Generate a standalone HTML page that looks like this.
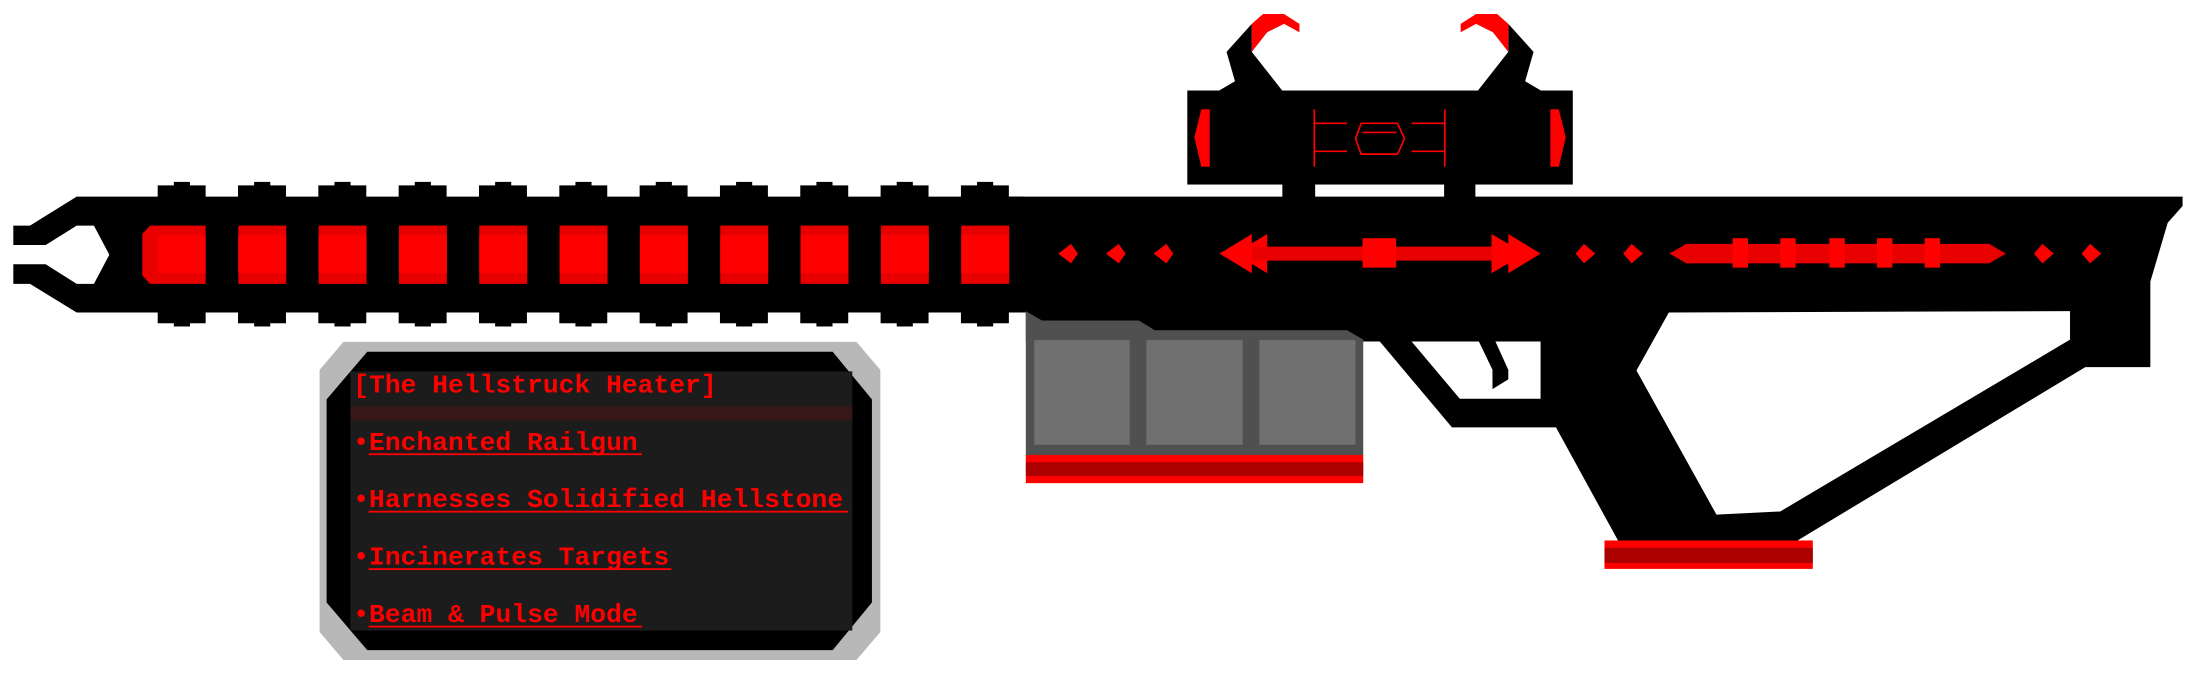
<!DOCTYPE html>
<html><head><meta charset="utf-8"><style>
html,body{margin:0;padding:0;background:#fff;overflow:hidden}
svg{display:block}
text{font-family:"Liberation Mono",monospace;font-weight:bold;fill:#f00}
</style></head><body>
<svg width="2198" height="674" viewBox="0 0 1568 481" preserveAspectRatio="none" xmlns="http://www.w3.org/2000/svg">
<!-- barrel -->
<polygon fill="#000" points="54.7,140.3 730,140.3 730,223 54.7,223 21.4,202.6 9.5,202.6 9.5,188.6 32.6,188.6 54.7,202.6 67,202.6 78,181.8 67,161 54.7,161 32.6,174.8 9.5,174.8 9.5,161 21.4,161"/>
<g id="bumps" fill="#000">
<g id="b0"><rect x="112.5" y="132.3" width="34.2" height="9"/><rect x="124" y="129.8" width="11.5" height="4"/><rect x="112.5" y="222" width="34.2" height="8.7"/><rect x="124" y="229" width="11.5" height="4"/></g>
<use href="#b0" x="57.3"/><use href="#b0" x="114.6"/><use href="#b0" x="171.9"/><use href="#b0" x="229.2"/><use href="#b0" x="286.5"/><use href="#b0" x="343.8"/><use href="#b0" x="401.1"/><use href="#b0" x="458.4"/><use href="#b0" x="515.7"/><use href="#b0" x="573"/>
</g>
<polygon fill="#e80000" points="107,161 146.7,161 146.7,202.6 107,202.6 101.5,196.5 101.5,167"/>
<rect x="112.5" y="168" width="34.2" height="27" fill="#f00"/>
<g id="sq"><rect x="170" y="161" width="34.2" height="41.6" fill="#e80000"/><rect x="170" y="168" width="34.2" height="27" fill="#f00"/></g>
<use href="#sq" x="57.3"/><use href="#sq" x="114.6"/><use href="#sq" x="171.9"/><use href="#sq" x="229.2"/><use href="#sq" x="286.5"/><use href="#sq" x="343.8"/><use href="#sq" x="401.1"/><use href="#sq" x="458.4"/>
<polygon fill="#e80000" points="685.7,161 726,161 731.5,167 731.5,196.5 726,202.6 685.7,202.6"/>
<rect x="685.7" y="168" width="34.2" height="27" fill="#f00"/>

<!-- scope -->
<rect x="847" y="64.6" width="275" height="67.1" fill="#000"/>
<rect x="914.8" y="130" width="23.4" height="12" fill="#000"/>
<rect x="1030.2" y="130" width="22.3" height="12" fill="#000"/>
<polygon fill="#000" points="893,17 875,37 881,58 869,65 915,65 893,37"/>
<polygon fill="#f00" points="893,17 901,10 916,10 927,17 927,23 916,17 904,23 893,37"/>
<g transform="translate(1969,0) scale(-1,1)">
<polygon fill="#000" points="893,17 875,37 881,58 869,65 915,65 893,37"/>
<polygon fill="#f00" points="893,17 901,10 916,10 927,17 927,23 916,17 904,23 893,37"/>
<polygon fill="#f00" points="857,78 863,78 863,119 857,119 852,98"/>
</g>
<polygon fill="#f00" points="857,78 863,78 863,119 857,119 852,98"/>
<g stroke="#f00" stroke-width="1.2" fill="none">
<line x1="937.6" y1="78" x2="937.6" y2="119"/><line x1="1030.7" y1="78" x2="1030.7" y2="119"/>
<line x1="937.6" y1="88" x2="961" y2="88"/><line x1="937.6" y1="108" x2="961" y2="108"/>
<line x1="1007" y1="88" x2="1030.7" y2="88"/><line x1="1007" y1="108" x2="1030.7" y2="108"/>
<polygon points="967,99 971,88 997,88 1002,99 997,110 971,110"/>
<line x1="972" y1="94.5" x2="996" y2="94.5"/>
</g>

<!-- body -->
<polygon fill="#000" points="720,140.3 1557,140.3 1557,147 1546.4,159 1534,201 1534,262 1487.6,262 1282.3,385.7 1155.5,388 1110,305 1035.8,305 984.3,243.7 731.8,243.7 731.8,223 720,223"/>
<polygon fill="#fff" points="1190.5,223 1476.7,222 1476.7,242.4 1270,365 1224.5,367.3 1167.4,264.4"/>
<polygon fill="#fff" points="1007,243.7 1099,243.7 1099,284.6 1041.4,284.6"/>
<polygon fill="#000" points="1055,243.7 1066.8,243.7 1076,264 1076,270.7 1064.7,277.7 1064.7,263.9"/>
<!-- butt plate -->
<rect x="1144.6" y="385.7" width="148.6" height="20.3" fill="#f00"/>
<rect x="1144.6" y="390.9" width="148.6" height="10.9" fill="#a00"/>
<!-- magazine -->
<polygon fill="#505050" points="731.8,222 743.3,228.7 812.4,228.7 823.8,235.7 961,235.7 972.5,242.4 972.5,325 731.8,325"/>
<rect x="737.8" y="242.7" width="68.1" height="74.7" fill="#707070"/>
<rect x="817.8" y="242.7" width="68.7" height="74.7" fill="#707070"/>
<rect x="898.4" y="242.7" width="68.6" height="74.7" fill="#707070"/>
<rect x="731.8" y="324.7" width="240.7" height="20.1" fill="#f00"/>
<rect x="731.8" y="329.9" width="240.7" height="9.7" fill="#a00"/>

<!-- red decorations on body -->
<g fill="#f00">
<polygon points="755,181 764,174 769,181 764,188"/>
<polygon points="789,181 798,174 803,181 798,188"/>
<polygon points="823,181 832,174 837,181 832,188"/>
<polygon points="870,181 893,167 893,195"/>
<polygon points="881,181 904,167 904,195"/>
<rect x="893" y="176" width="183" height="10" fill="#e80000"/>
<rect x="972" y="170" width="24" height="21"/>
<polygon points="1099,181 1076,167 1076,195"/>
<polygon points="1088,181 1064,167 1064,195"/>
<polygon points="1124,181 1130,174 1138,181 1130,188"/>
<polygon points="1158,181 1164,174 1172,181 1164,188"/>
<polygon points="1191,181 1203,174 1419,174 1431,181 1419,188 1203,188" fill="#e80000"/>
<rect x="1236" y="170" width="11" height="21"/><rect x="1270" y="170" width="11" height="21"/><rect x="1305" y="170" width="11" height="21"/><rect x="1339" y="170" width="11" height="21"/><rect x="1373" y="170" width="11" height="21"/>
<polygon points="1451,181 1457,174 1465,181 1457,188"/>
<polygon points="1485,181 1491,174 1499,181 1491,188"/>
</g>

<!-- info panel -->
<polygon fill="#b8b8b8" points="245,244 611,244 628,264 628,451 611,471 245,471 228,451 228,264"/>
<polygon fill="#000" points="262,251 594,251 622,285 622,430 594,464 262,464 233,430 233,285"/>
<rect x="250" y="265" width="358" height="185" fill="#1c1c1c"/>
<rect x="250" y="290" width="358" height="10" fill="#371818"/>
<text x="252" y="280" font-size="18.8">[The Hellstruck Heater]</text>
<text x="252" y="321" font-size="18.8">•Enchanted Railgun</text>
<text x="252" y="362" font-size="18.8">•Harnesses Solidified Hellstone</text>
<text x="252" y="403" font-size="18.8">•Incinerates Targets</text>
<text x="252" y="444" font-size="18.8">•Beam &amp; Pulse Mode</text>
<g fill="#f00">
<rect x="263" y="323.5" width="195" height="1.3"/>
<rect x="263" y="364.5" width="342" height="1.3"/>
<rect x="263" y="405.5" width="216" height="1.3"/>
<rect x="263" y="446.5" width="195" height="1.3"/>
</g>
</svg>
</body></html>
